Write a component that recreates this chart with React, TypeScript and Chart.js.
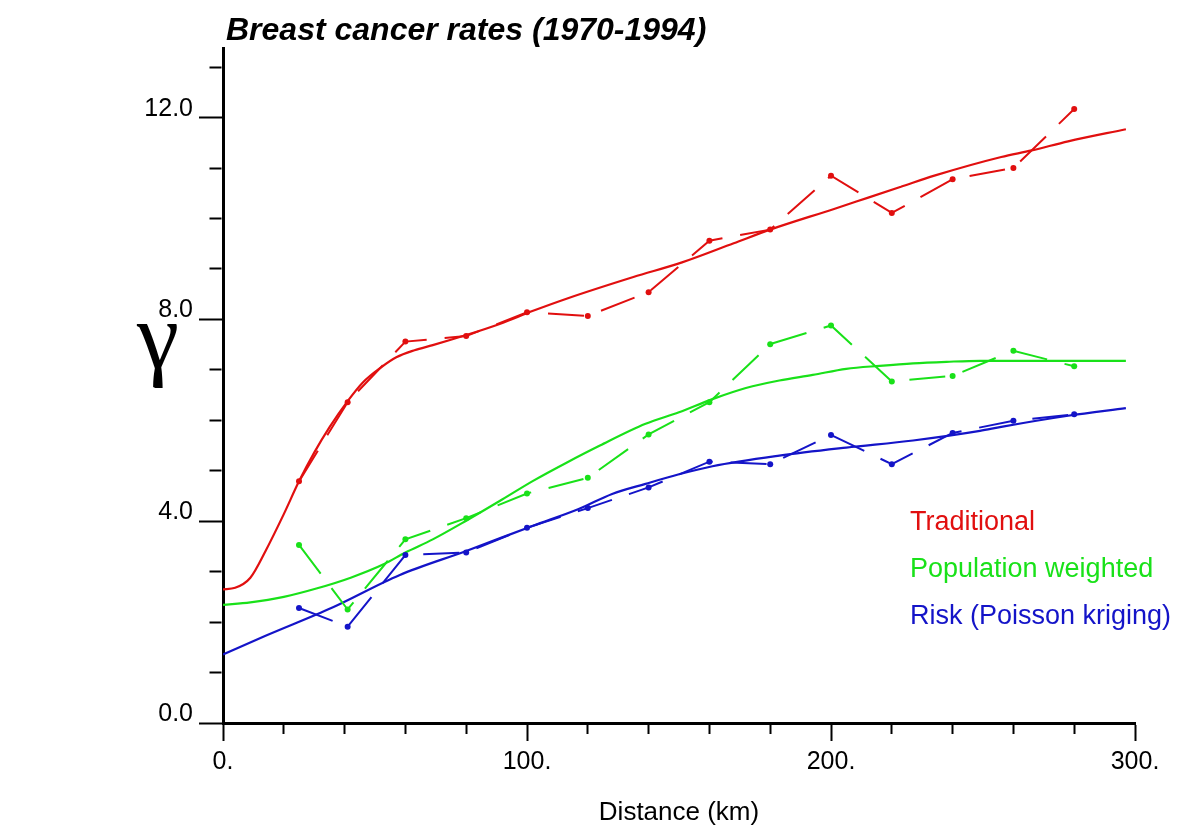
import React, { useEffect, useRef } from "react";
import { Chart, registerables } from "chart.js";

Chart.register(...registerables);

// ---------- data ----------
const TITLE = "Breast cancer rates (1970-1994)";
const X_TITLE = "Distance (km)";
const Y_TITLE = "γ";
const LEGEND_LABELS = ["Traditional", "Population weighted", "Risk (Poisson kriging)"];

// experimental semivariogram lags (km)
const lags = [25, 41, 60, 80, 100, 120, 140, 160, 180, 200, 220, 240, 260, 280];
const traditionalExp = [4.79, 6.36, 7.56, 7.67, 8.14, 8.07, 8.54, 9.56, 9.78, 10.85, 10.11, 10.78, 11.0, 12.17];
const populationExp = [3.53, 2.25, 3.64, 4.06, 4.55, 4.86, 5.72, 6.36, 7.51, 7.88, 6.77, 6.88, 7.38, 7.07];
const riskExp = [2.28, 1.91, 3.33, 3.38, 3.87, 4.26, 4.67, 5.18, 5.13, 5.71, 5.13, 5.75, 5.99, 6.12];

// fitted models
const traditionalModelDist = [0, 4, 9, 14, 20, 25, 30, 35, 41, 46, 52, 57, 63, 69, 80, 91, 102, 113, 135, 151, 168, 180, 201, 212, 223, 234, 256, 266, 278, 297];
const traditionalModel = [2.65, 2.68, 2.88, 3.41, 4.14, 4.79, 5.36, 5.86, 6.38, 6.75, 7.05, 7.25, 7.39, 7.49, 7.69, 7.91, 8.17, 8.41, 8.84, 9.13, 9.51, 9.78, 10.19, 10.41, 10.63, 10.85, 11.22, 11.35, 11.53, 11.77];

const populationModelDist = [0, 9, 20, 31, 42, 53, 60, 69, 80, 91, 102, 113, 124, 139, 150, 161, 172, 183, 194, 205, 216, 227, 238, 249, 297];
const populationModel = [2.34, 2.39, 2.5, 2.67, 2.88, 3.15, 3.38, 3.64, 4.01, 4.4, 4.8, 5.16, 5.5, 5.93, 6.16, 6.42, 6.64, 6.79, 6.9, 7.02, 7.08, 7.13, 7.16, 7.18, 7.18];

const riskModelDist = [0, 14, 36, 58, 80, 102, 117, 128, 139, 150, 161, 183, 205, 227, 249, 256, 278, 297];
const riskModel = [1.36, 1.73, 2.29, 2.93, 3.41, 3.91, 4.24, 4.54, 4.74, 4.93, 5.09, 5.3, 5.46, 5.6, 5.79, 5.87, 6.09, 6.24];

// axes
const X_MIN = 0;
const X_MAX = 300;
const X_STEP = 20;
const X_LABEL_EVERY = 100;
const Y_MIN = 0;
const Y_MAX = 13.38;
const Y_STEP = 1;
const Y_LABEL_EVERY = 4;

// ---------- styling ----------
const RED = "rgb(225,15,15)";
const GREEN = "rgb(25,225,25)";
const BLUE = "rgb(20,20,200)";
const COLORS = [RED, GREEN, BLUE];
const SANS = '"Liberation Sans", Arial, Helvetica, sans-serif';

const pairs = (xs: number[], ys: number[]) => xs.map((x, i) => ({ x, y: ys[i] }));

const textPlugin = {
  id: "texts",
  afterDraw(chart: any) {
    const ctx = chart.ctx as CanvasRenderingContext2D;
    ctx.save();
    ctx.fillStyle = "#000";
    ctx.textAlign = "left";
    ctx.textBaseline = "alphabetic";
    ctx.font = `italic bold 32px ${SANS}`;
    ctx.fillText(TITLE, 226, 40);

    ctx.font = `95px "Liberation Serif", "DejaVu Serif", serif`;
    ctx.textAlign = "center";
    ctx.fillText(Y_TITLE, 158, 368);

    ctx.textAlign = "left";
    ctx.font = `27px ${SANS}`;
    LEGEND_LABELS.forEach((t, i) => {
      ctx.fillStyle = COLORS[i];
      ctx.fillText(t, 910, 530 + i * 47);
    });
    ctx.restore();
  },
};

export default function App() {
  const ref = useRef<HTMLCanvasElement | null>(null);

  useEffect(() => {
    document.body.style.margin = "0";
    const canvas = ref.current;
    if (!canvas) return;

    const expDs = (data: number[], color: string) => ({
      data: pairs(lags, data),
      borderColor: color,
      backgroundColor: color,
      borderWidth: 2,
      borderDash: [36, 18],
      pointRadius: 3,
      pointBorderWidth: 0,
      pointBackgroundColor: color,
      tension: 0,
      fill: false,
    });
    const modelDs = (xs: number[], ys: number[], color: string) => ({
      data: pairs(xs, ys),
      borderColor: color,
      backgroundColor: color,
      borderWidth: 2.2,
      pointRadius: 0,
      cubicInterpolationMode: "monotone" as const,
      fill: false,
    });

    const chart = new Chart(canvas, {
      type: "line",
      data: {
        datasets: [
          expDs(traditionalExp, RED) as any,
          expDs(populationExp, GREEN),
          expDs(riskExp, BLUE),
          modelDs(traditionalModelDist, traditionalModel, RED),
          modelDs(populationModelDist, populationModel, GREEN),
          modelDs(riskModelDist, riskModel, BLUE),
        ],
      },
      options: {
        animation: false,
        responsive: false,
        maintainAspectRatio: false,
        layout: { padding: { left: 0, top: 48, right: 65, bottom: 0 } },
        plugins: {
          legend: { display: false },
          tooltip: { enabled: false },
          title: { display: false },
        },
        scales: {
          x: {
            type: "linear",
            min: X_MIN,
            max: X_MAX,
            position: "bottom",
            afterFit: (s: any) => {
              s.height = 113;
            },
            border: { display: true, color: "#000", width: 3 },
            grid: {
              drawOnChartArea: false,
              drawTicks: true,
              tickLength: 18,
              tickColor: "#000",
              tickWidth: 2,
              tickBorderDash: (c: any) =>
                c.tick && c.tick.value % X_LABEL_EVERY === 0 ? [] : [9, 100],
            } as any,
            ticks: {
              stepSize: X_STEP,
              autoSkip: false,
              maxRotation: 0,
              includeBounds: false,
              padding: 6,
              color: "#000",
              font: { family: SANS, size: 25 },
              callback: (v: any) => (Number(v) % X_LABEL_EVERY === 0 ? `${v}.` : ""),
            },
            title: {
              display: true,
              text: X_TITLE,
              color: "#000",
              font: { family: SANS, size: 26 },
              padding: { top: 0, bottom: 8 },
            },
          },
          y: {
            type: "linear",
            min: Y_MIN,
            max: Y_MAX,
            position: "left",
            afterFit: (s: any) => {
              s.width = 223;
            },
            border: { display: true, color: "#000", width: 3 },
            grid: {
              drawOnChartArea: false,
              drawTicks: true,
              tickLength: 24,
              tickColor: "#000",
              tickWidth: 2,
              tickBorderDash: (c: any) =>
                c.tick && c.tick.value % Y_LABEL_EVERY === 0 ? [] : [12, 10.5],
              tickBorderDashOffset: (c: any) =>
                c.tick && c.tick.value % Y_LABEL_EVERY === 0 ? 0 : 12,
            } as any,
            ticks: {
              stepSize: Y_STEP,
              autoSkip: false,
              includeBounds: false,
              padding: 6,
              labelOffset: -9,
              color: "#000",
              font: { family: SANS, size: 25 },
              callback: (v: any) =>
                Number(v) % Y_LABEL_EVERY === 0 ? Number(v).toFixed(1) : "",
            },
          },
        },
      },
      plugins: [textPlugin],
    });

    return () => chart.destroy();
  }, []);

  return (
    <div style={{ position: "absolute", left: 0, top: 0, width: 1200, height: 836, background: "#fff" }}>
      <canvas ref={ref} width={1200} height={836} style={{ display: "block", width: 1200, height: 836 }} />
    </div>
  );
}
